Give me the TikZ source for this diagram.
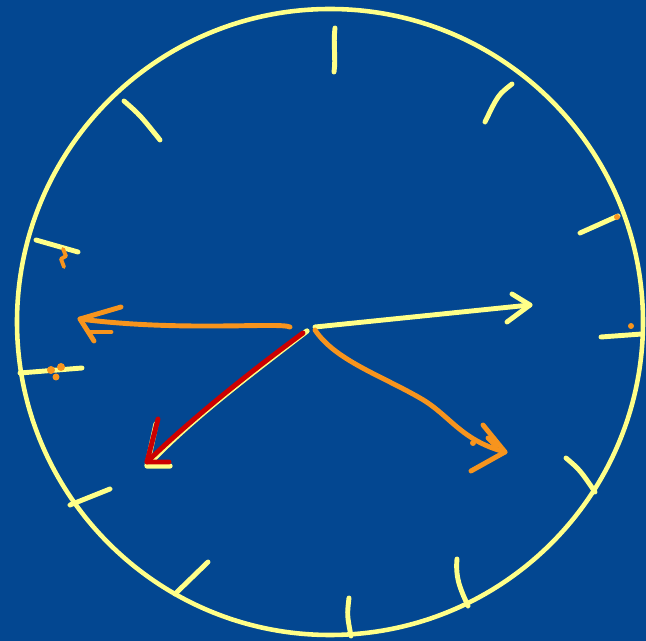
\documentclass[tikz,border=0pt]{standalone}
\usepackage{xcolor}
\usepackage{tikz}
\usetikzlibrary{backgrounds, calc}

\definecolor{clockblue}{RGB}{3,71,145}
\definecolor{chalkyellow}{RGB}{255,255,136}
\definecolor{chalkorange}{RGB}{247,148,29}
\definecolor{chalkred}{RGB}{204,0,0}

\begin{document}
\begin{tikzpicture}[
    x=0.02cm, y=-0.02cm,
    rim/.style={
        draw=chalkyellow,
        line width=2.6pt
    },
    tick/.style={
        draw=chalkyellow,
        line width=2.8pt,
        line cap=round
    },
    yellowhand/.style={
        draw=chalkyellow,
        line width=2.8pt,
        line cap=round,
        line join=round
    },
    orangehand/.style={
        draw=chalkorange,
        line width=2.8pt,
        line cap=round,
        line join=round
    },
    redhand/.style={
        draw=chalkred,
        line width=2.8pt,
        line cap=round,
        line join=round
    },
    speck/.style={
        fill=chalkorange
    }
]

    % Background
    \fill[clockblue] (0,0) rectangle (646,641);
    \useasboundingbox (0,0) rectangle (646,641);

    % Clock face
    \coordinate (centre) at (330,322);
    \draw[rim] (centre) circle [radius=313];

    % Hour ticks
    \draw[tick] (335,28) .. controls (333,45) and (336,58) .. (334,72);
    \draw[tick] (512,84) .. controls (498,95) .. (485,122);
    \draw[tick] (618,216) -- (580,233);
    \draw[tick] (642,334) -- (601,337);
    \draw[tick] (566,458) .. controls (580,470) .. (595,492);
    \draw[tick] (457,559) .. controls (455,580) and (462,592) .. (468,606);
    \draw[tick] (349,598) .. controls (347,615) .. (351,636);
    \draw[tick] (208,562) -- (175,594);
    \draw[tick] (110,489) -- (70,505);
    \draw[tick] (82,368) -- (20,373);
    \draw[tick] (36,240) -- (78,252);
    \draw[tick] (124,101) .. controls (140,115) .. (160,140);

    % Orange specks
    \draw[orangehand, line width=2.2pt] (63,249) -- (66,256) -- (61,259) -- (64,267);
    \fill[speck] (51,370) circle [radius=4];
    \fill[speck] (61,367) circle [radius=4];
    \fill[speck] (56,377) circle [radius=3.5];
    \fill[speck] (617,217) circle [radius=3];
    \fill[speck] (631,326) circle [radius=3];
    \fill[speck] (473,443) circle [radius=3];

    % Hand end points
    \coordinate (yellowtip) at (530,305);
    \coordinate (lefttip) at (80,319);
    \coordinate (redtip) at (147,462);
    \coordinate (righttip) at (505,452);

    % Yellow hand
    \draw[yellowhand] (315,327) -- (yellowtip);
    \draw[yellowhand] (512,294) -- (yellowtip) -- (507,322);

    % Orange hand to the left
    \draw[orangehand] (290,327) .. controls (280,322) and (180,332) .. (lefttip);
    \draw[orangehand] (121,307) -- (lefttip) -- (94,341);
    \draw[orangehand] (90,332) -- (111,332);

    % Red hand with yellow shade
    \draw[yellowhand, line width=3pt] (307,331) .. controls (250,375) and (190,420) .. ($(redtip)+(1,3)$);
    \draw[yellowhand, line width=3pt] (156,424) -- ($(redtip)+(0,4)$) -- (170,466);
    \draw[redhand] (303,333) .. controls (250,372) and (190,420) .. (redtip);
    \draw[redhand] (158,419) -- (redtip) -- (169,462);

    % Orange hand to the right
    \draw[orangehand] (315,330) .. controls (335,360) and (380,375) .. (420,398)
        .. controls (450,415) and (460,440) .. (righttip);
    \draw[orangehand] (483,425) -- (righttip) -- (471,471);
    \draw[orangehand] (488,438) -- (496,446);

\end{tikzpicture}
\end{document}
